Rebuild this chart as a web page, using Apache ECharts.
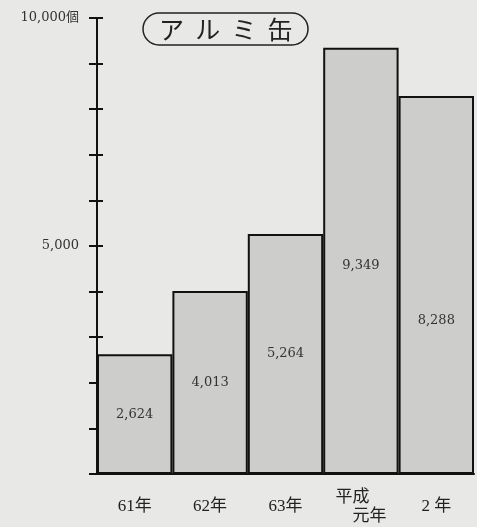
<!DOCTYPE html>
<html><head><meta charset="utf-8">
<script src="https://cdn.jsdelivr.net/npm/echarts@6/dist/echarts.min.js"></script>
<style>html,body{margin:0;padding:0;background:#e8e8e6;}#c{width:477px;height:527px;}</style>
</head><body><div id="c"></div>
<script>
const categories = ['61年', '62年', '63年', '平成　\n　元年', '2 年'];
const values = [2624, 4013, 5264, 9349, 8288];
const yTickLabels = {10000: '10,000個', 5000: '5,000'};
const titleText = 'ア  ル  ミ  缶';

const serif = '"DejaVu Serif","Liberation Serif","Noto Sans CJK JP",serif';
const chart = echarts.init(document.getElementById('c'));
chart.setOption({
  backgroundColor: '#e8e8e6',
  animation: false,
  title: {
    text: titleText,
    left: 143, top: 13,
    padding: [1, 16, 1, 16],
    borderColor: '#222', borderWidth: 1.5, borderRadius: 16,
    textStyle: {fontFamily: '"Noto Sans CJK JP",sans-serif', fontSize: 25, fontWeight: 'normal', color: '#222', lineHeight: 30}
  },
  grid: {left: 97, right: 3, top: 18, bottom: 53},
  xAxis: {
    type: 'category', data: categories,
    axisLine: {lineStyle: {color: '#111', width: 2}},
    axisTick: {show: false},
    axisLabel: {
      margin: 33, verticalAlign: 'middle', color: '#222',
      fontFamily: '"Liberation Serif","Noto Sans CJK JP",serif', fontSize: 17, lineHeight: 19
    }
  },
  yAxis: [{
    type: 'value', min: 0, max: 10000, interval: 1000,
    splitLine: {show: false},
    axisLine: {show: true, lineStyle: {color: '#111', width: 2}},
    axisTick: {show: true, length: 8, lineStyle: {color: '#111', width: 2}},
    axisLabel: {
      margin: 18, color: '#333', fontFamily: serif, fontSize: 13,
      formatter: v => yTickLabels[v] || ''
    }
  }, {
    type: 'value', min: 0, max: 10000, interval: 1000, position: 'left',
    splitLine: {show: false},
    axisLine: {show: false},
    axisTick: {show: true, inside: true, length: 6, lineStyle: {color: '#111', width: 2}},
    axisLabel: {show: false}
  }],
  series: [{
    type: 'bar',
    data: values.map((v, i) => i === 4 ? {value: v, label: {offset: [0, 36]}} : (i === 3 ? {value: v, label: {offset: [0, 5]}} : v)),
    barCategoryGap: 0,
    itemStyle: {color: '#cdcdcb', borderColor: '#111', borderWidth: 2},
    label: {
      show: true, position: 'inside', color: '#333', fontFamily: serif, fontSize: 13,
      formatter: p => p.value.toLocaleString('en-US')
    }
  }]
});
</script></body></html>
